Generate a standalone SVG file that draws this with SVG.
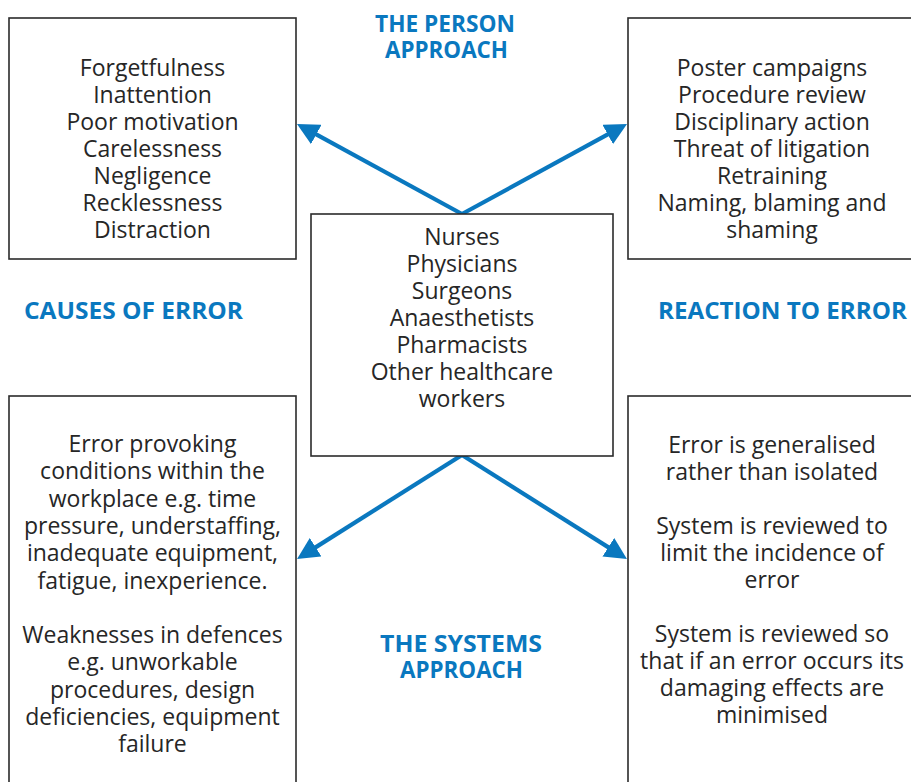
<svg xmlns="http://www.w3.org/2000/svg" width="911" height="782" viewBox="0 0 911 782">
<defs>
<style>
.box{fill:#fff;stroke:#2b2b2b;stroke-width:1.6}
.t{font-family:"Open Sans","DejaVu Sans",sans-serif;font-size:23px;fill:#262626;text-anchor:middle}
.h{font-family:"Open Sans","DejaVu Sans",sans-serif;font-size:23px;font-weight:bold;fill:#0a78bf;text-anchor:middle}
.arr{stroke:#0a78bf;stroke-width:4.2;fill:none;marker-end:url(#ah)}
</style>
<marker id="ah" viewBox="0 -11 22 22" refX="10" refY="0" markerWidth="22" markerHeight="22" markerUnits="userSpaceOnUse" orient="auto">
<path d="M0,-11 L22,0 L0,11 z" fill="#0a78bf"/>
</marker>
</defs>
<rect width="911" height="782" fill="#fff"/>
<g id="connectors">
<line class="arr" x1="462" y1="214" x2="307.5" y2="129.7"/>
<line class="arr" x1="462" y1="214" x2="616.5" y2="129.7"/>
<line class="arr" x1="462" y1="455" x2="307.2" y2="552.6"/>
<line class="arr" x1="462" y1="455" x2="616.8" y2="552.6"/>
</g>
<g id="causes">
<rect class="box" x="9" y="18" width="287" height="241"/>
<text class="t" x="152.5" y="76">Forgetfulness</text>
<text class="t" x="152.5" y="103">Inattention</text>
<text class="t" x="152.5" y="130">Poor motivation</text>
<text class="t" x="152.5" y="157">Carelessness</text>
<text class="t" x="152.5" y="184">Negligence</text>
<text class="t" x="152.5" y="211">Recklessness</text>
<text class="t" x="152.5" y="238">Distraction</text>
</g>
<g id="reaction">
<rect class="box" x="628" y="18" width="295" height="241"/>
<text class="t" x="772" y="76">Poster campaigns</text>
<text class="t" x="772" y="103">Procedure review</text>
<text class="t" x="772" y="130">Disciplinary action</text>
<text class="t" x="772" y="157">Threat of litigation</text>
<text class="t" x="772" y="184">Retraining</text>
<text class="t" x="772" y="211">Naming, blaming and</text>
<text class="t" x="772" y="238">shaming</text>
</g>
<g id="workers">
<rect class="box" x="311" y="214" width="302" height="242"/>
<text class="t" x="462" y="245">Nurses</text>
<text class="t" x="462" y="272">Physicians</text>
<text class="t" x="462" y="299">Surgeons</text>
<text class="t" x="462" y="326">Anaesthetists</text>
<text class="t" x="462" y="353">Pharmacists</text>
<text class="t" x="462" y="380">Other healthcare</text>
<text class="t" x="462" y="407">workers</text>
</g>
<g id="system-causes">
<rect class="box" x="9" y="396" width="287" height="400"/>
<text class="t" x="152.5" y="452">Error provoking</text>
<text class="t" x="152.5" y="479.3">conditions within the</text>
<text class="t" x="152.5" y="506.6">workplace e.g. time</text>
<text class="t" x="152.5" y="533.9">pressure, understaffing,</text>
<text class="t" x="152.5" y="561.2">inadequate equipment,</text>
<text class="t" x="152.5" y="588.5">fatigue, inexperience.</text>
<text class="t" x="152.5" y="643">Weaknesses in defences</text>
<text class="t" x="152.5" y="670.3">e.g. unworkable</text>
<text class="t" x="152.5" y="697.6">procedures, design</text>
<text class="t" x="152.5" y="724.9">deficiencies, equipment</text>
<text class="t" x="152.5" y="752.2">failure</text>
</g>
<g id="system-reaction">
<rect class="box" x="628" y="396" width="295" height="400"/>
<text class="t" x="772" y="453">Error is generalised</text>
<text class="t" x="772" y="480">rather than isolated</text>
<text class="t" x="772" y="534">System is reviewed to</text>
<text class="t" x="772" y="561">limit the incidence of</text>
<text class="t" x="772" y="588">error</text>
<text class="t" x="772" y="642">System is reviewed so</text>
<text class="t" x="772" y="669">that if an error occurs its</text>
<text class="t" x="772" y="696">damaging effects are</text>
<text class="t" x="772" y="723">minimised</text>
</g>
<g id="headings">
<text class="h" x="445" y="32" textLength="140" lengthAdjust="spacingAndGlyphs">THE PERSON</text>
<text class="h" x="446.5" y="58" textLength="123" lengthAdjust="spacingAndGlyphs">APPROACH</text>
<text class="h" x="133.5" y="319" textLength="219" lengthAdjust="spacingAndGlyphs">CAUSES OF ERROR</text>
<text class="h" x="782.5" y="319" textLength="249" lengthAdjust="spacingAndGlyphs">REACTION TO ERROR</text>
<text class="h" x="461" y="652" textLength="162" lengthAdjust="spacingAndGlyphs">THE SYSTEMS</text>
<text class="h" x="461.5" y="678" textLength="123" lengthAdjust="spacingAndGlyphs">APPROACH</text>
</g>
</svg>
